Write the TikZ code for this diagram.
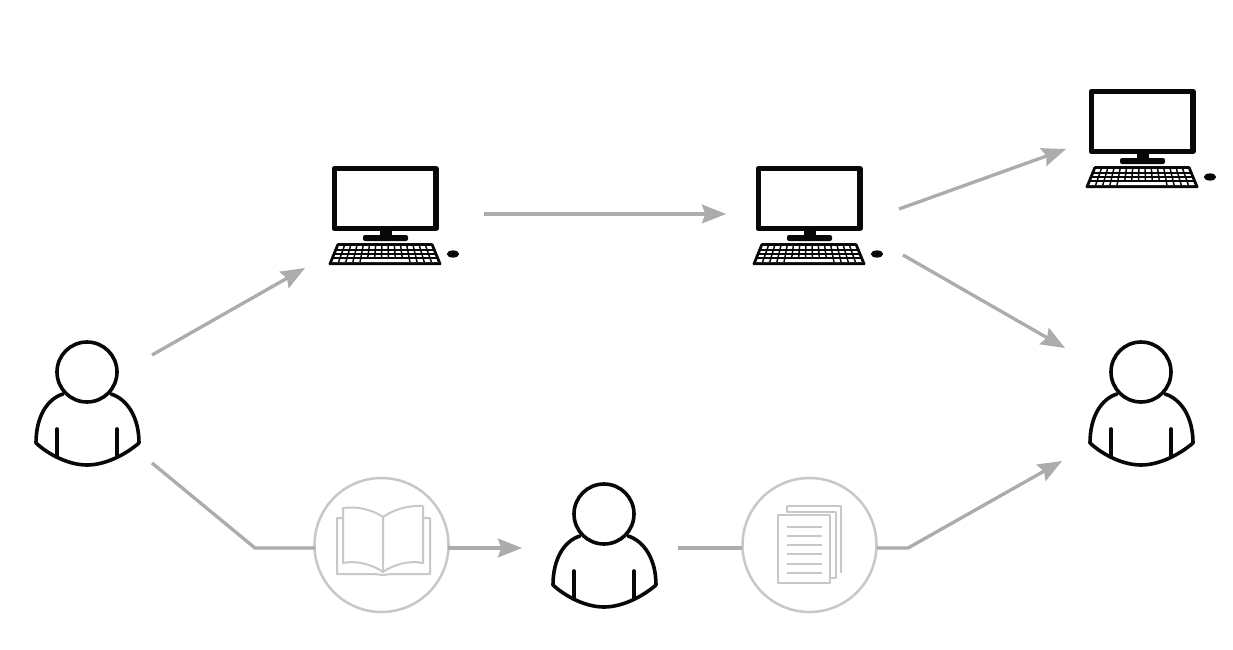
\documentclass[tikz,border=0pt]{standalone}
\usetikzlibrary{arrows.meta}
\definecolor{iconink}{RGB}{8,8,8}
\definecolor{linkgray}{RGB}{172,172,172}
\definecolor{softgray}{RGB}{200,200,200}
\tikzset{
  x=0.75pt,y=-0.75pt,
  link/.style={draw=linkgray,line width=2.5pt,line join=round},
  arrowlink/.style={link,-{Stealth[length=18pt,width=14pt,inset=2.5pt]}},
  inkline/.style={draw=iconink,line width=2.7pt,line cap=round,line join=round},
  softline/.style={draw=softgray,line width=1.5pt,line join=round},
  ring/.style={circle,draw=softgray,line width=1.9pt,minimum size=100.5pt,inner sep=0pt,fill=white},
  person/.pic={
    \draw[inkline,fill=white] (-24,22) .. controls (-40,27) and (-51,45) .. (-51,71)
      .. controls (-38,83) and (-18,93) .. (0,93)
      .. controls (18,93) and (38,83) .. (52,71)
      .. controls (52,45) and (40,27) .. (24,22);
    \draw[inkline,fill=white] (0,0) circle[radius=30];
    \draw[inkline] (-30,57) -- (-30,85);
    \draw[inkline] (30,57) -- (30,85);
  },
  computer/.pic={
    \draw[draw=iconink,line width=4pt,line join=round,fill=white] (2.5,2.5) rectangle (104,62.5);
    \fill[iconink] (48,64) rectangle (60,70);
    \fill[iconink,rounded corners=1.5pt] (31,69) rectangle (76,75);
    \fill[iconink,rounded corners=1pt] (5,77) -- (101,77) -- (110,99) -- (-4,99) -- cycle;
    \fill[white] (6,80) -- (100,80) -- (106.5,96) -- (-0.5,96) -- cycle;
    \foreach \i in {0,...,15}{
      \draw[iconink,line width=1.1pt] ({6+\i*94/15},80) -- ({-0.5+\i*107/15},96);
    }
    \foreach \yy/\xa/\xb in {84/4/102,88/2.4/103.7,92/0.7/105.3}{
      \draw[iconink,line width=1.1pt] (\xa,\yy) -- (\xb,\yy);
    }
    \fill[white] (30,92.8) rectangle (72,95.6);
    \fill[iconink] (121,88) ellipse[x radius=6.2,y radius=3.6];
  }
}
\begin{document}
\begin{tikzpicture}
\useasboundingbox (0,0) rectangle (1233,650);
\fill[white] (0,0) rectangle (1233,650);

% icons
\pic at (87,372) {person};
\pic at (1141,372) {person};
\pic at (604,514) {person};
\pic at (332,166) {computer};
\pic at (756,166) {computer};
\pic at (1089,89) {computer};

% connector ends
\coordinate (pa) at (152,355);
\coordinate (pb) at (152,463);
\coordinate (bend1) at (255,548);
\coordinate (pcA) at (305,268);
\coordinate (pcAout) at (484,214);
\coordinate (pcBin) at (726,214);
\coordinate (pcBup) at (899,209);
\coordinate (pcCin) at (1066,149);
\coordinate (pcBdown) at (903,255);
\coordinate (endA) at (1065,348);
\coordinate (midIn) at (522,548);
\coordinate (midOut) at (678,548);
\coordinate (bend2) at (908,548);
\coordinate (endB) at (1062,461);
\coordinate (bookL) at (315,548);
\coordinate (bookR) at (448,548);
\coordinate (docL) at (742,548);
\coordinate (docR) at (877,548);

% rings
\node[ring] (book) at (381.5,545) {};
\node[ring] (doc) at (809.5,545) {};

% connectors
\draw[arrowlink] (pa) -- (pcA);
\draw[arrowlink] (pcAout) -- (pcBin);
\draw[arrowlink] (pcBup) -- (pcCin);
\draw[arrowlink] (pcBdown) -- (endA);
\draw[link] (pb) -- (bend1) -- (bookL);
\draw[arrowlink] (bookR) -- (midIn);
\draw[link] (midOut) -- (docL);
\draw[arrowlink] (docR) -- (bend2) -- (endB);

% book icon
\draw[softline] (343,508) .. controls (358,506) and (373,510) .. (383,517) -- (383,572)
  .. controls (373,565) and (357,560) .. (343,563) -- cycle;
\draw[softline] (423,506) .. controls (408,505) and (393,510) .. (383,517);
\draw[softline] (423,506) -- (423,563) .. controls (408,560) and (393,565) .. (383,572);
\draw[softline] (343,518) -- (337,518) -- (337,574) -- (372,574) .. controls (378,574) and (380,575) .. (383,575)
  .. controls (386,575) and (388,574) .. (394,574) -- (430,574) -- (430,518) -- (423,518);

% document icon
\draw[softline,fill=white] (787,506) -- (841,506) -- (841,573);
\draw[softline,fill=white] (787,506) -- (787,512) -- (836,512) -- (836,578) -- (830,578);
\draw[softline,fill=white] (778,515) rectangle (830,583);
\foreach \yy in {527,536,545,554,564,573}{
  \draw[softline] (787,\yy) -- (822,\yy);
}
\end{tikzpicture}
\end{document}
